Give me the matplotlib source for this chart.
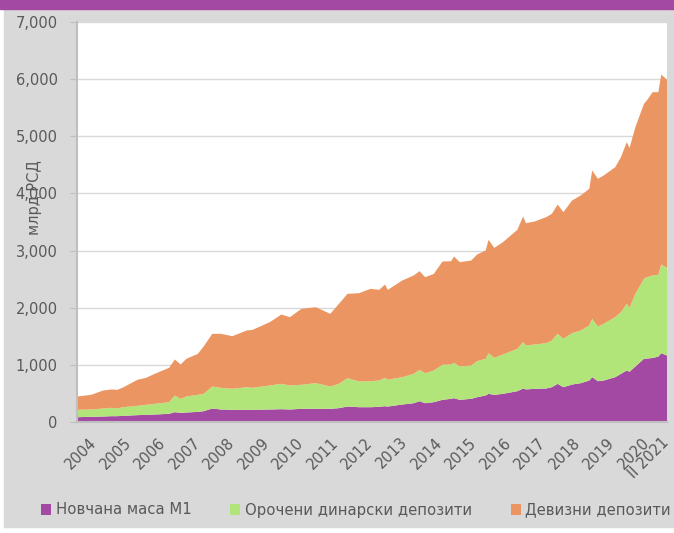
import matplotlib.pyplot as plt
import numpy as np
import pandas as pd
from matplotlib.patches import Patch, Rectangle

# monthly readings (млрд РСД), Jan 2004 - Feb 2021
dates = ['2004-01', '2004-06', '2004-10', '2005-01', '2005-03', '2005-05', '2005-10',
         '2006-01', '2006-04', '2006-09', '2006-11', '2007-01', '2007-03', '2007-07',
         '2007-09', '2007-12', '2008-03', '2008-07', '2008-12', '2009-02', '2009-08',
         '2009-12', '2010-03', '2010-07', '2010-12', '2011-05', '2011-08', '2011-11',
         '2012-03', '2012-07', '2012-10', '2012-12', '2013-01', '2013-06', '2013-10',
         '2013-12', '2014-02', '2014-05', '2014-08', '2014-11', '2014-12', '2015-02',
         '2015-06', '2015-08', '2015-11', '2015-12', '2016-02', '2016-05', '2016-10',
         '2016-12', '2017-01', '2017-04', '2017-08', '2017-10', '2017-12', '2018-02',
         '2018-05', '2018-08', '2018-11', '2018-12', '2019-02', '2019-04', '2019-08',
         '2019-10', '2019-12', '2020-01', '2020-03', '2020-06', '2020-07', '2020-09',
         '2020-11', '2020-12', '2021-02']

m1 = [84, 91, 96, 102, 102, 108, 120, 125, 131, 143, 172, 160, 166, 177, 189, 236,
      219, 213, 213, 213, 219, 224, 219, 231, 231, 231, 242, 271, 259, 259, 265, 277,
      270, 306, 329, 364, 329, 347, 388, 406, 417, 388, 406, 434, 464, 493, 475, 493,
      539, 586, 570, 581, 586, 609, 668, 609, 656, 679, 726, 784, 714, 726, 784, 843,
      901, 880, 971, 1106, 1110, 1120, 1146, 1204, 1164]

dinar_dep = [129, 128, 140, 146, 134, 151, 163, 176, 187, 204, 292, 245, 280, 298, 304,
             385, 379, 368, 396, 385, 420, 444, 420, 420, 449, 390, 426, 496, 450, 455,
             461, 496, 470, 478, 514, 549, 526, 554, 613, 600, 619, 583, 583, 630, 642,
             711, 648, 688, 742, 811, 769, 775, 793, 817, 875, 847, 898, 922, 963, 1022,
             957, 992, 1050, 1079, 1167, 1118, 1272, 1400, 1424, 1444, 1430, 1552, 1535]

fx_dep = [233, 257, 315, 321, 327, 345, 455, 472, 525, 601, 630, 601, 659, 718, 828,
          922, 945, 921, 992, 1015, 1108, 1213, 1195, 1330, 1329, 1272, 1400, 1476, 1545,
          1617, 1587, 1633, 1573, 1692, 1721, 1726, 1679, 1692, 1808, 1808, 1860, 1826,
          1837, 1867, 1895, 1984, 1925, 1966, 2082, 2199, 2140, 2153, 2205, 2217, 2263,
          2216, 2322, 2363, 2392, 2595, 2585, 2596, 2625, 2712, 2829, 2800, 2916, 3062,
          3092, 3208, 3196, 3325, 3290]

series_names = ['Новчана маса М1', 'Орочени динарски депозити', 'Девизни депозити']
colors = ['#a349a4', '#b2e579', '#eb9662']
x_labels = ['2004', '2005', '2006', '2007', '2008', '2009', '2010', '2011', '2012',
            '2013', '2014', '2015', '2016', '2017', '2018', '2019', '2020', 'II 2021']

plt.rcParams['font.family'] = ['DejaVu Sans']
text_col = '#595959'

d = pd.to_datetime(dates)
x = (d.year - 2004) * 12 + d.month - 1

fig = plt.figure(figsize=(6.74, 5.33), dpi=100, facecolor='white')
# gray panel and purple band at the top
fig.patches.append(Rectangle((4 / 674, 6 / 533), 1, 1 - 15 / 533,
                             transform=fig.transFigure, color='#d9d9d9', zorder=-2))
fig.patches.append(Rectangle((0, 1 - 9 / 533), 1, 9 / 533,
                             transform=fig.transFigure, color='#a349a4', zorder=-1))

ax = fig.add_axes([77 / 674, 1 - 422 / 533, 590 / 674, 400 / 533])
ax.stackplot(x, m1, dinar_dep, fx_dep, colors=colors, linewidth=0)

ax.set_xlim(x[0], x[-1])
ax.set_ylim(0, 7000)
ax.set_yticks(np.arange(0, 7001, 1000))
ax.set_yticklabels([f'{v:,}' for v in range(0, 7001, 1000)])
ax.grid(axis='y', color='#d9d9d9', linewidth=1)
ax.set_axisbelow(True)

ticks = [6 + 12 * i for i in range(len(x_labels) - 1)] + [x[-1]]
ax.set_xticks(ticks)
ax.set_xticklabels(x_labels, rotation=45, ha='right', va='center',
                   rotation_mode='anchor')

for s in ['top', 'right']:
    ax.spines[s].set_visible(False)
for s in ['left', 'bottom']:
    ax.spines[s].set_color('#bfbfbf')
    ax.spines[s].set_linewidth(1.5)

ax.tick_params(axis='y', colors='#bfbfbf', labelcolor=text_col, labelsize=10.5,
               length=5, pad=9)
ax.tick_params(axis='x', length=0, labelcolor=text_col, labelsize=10.5, pad=13)

fig.text(35 / 674, 1 - 198 / 533, 'млрд РСД', rotation=90, ha='center',
         va='center', color=text_col, fontsize=10.5)

handles = [Patch(facecolor=c, edgecolor='none') for c in colors]
fig.legend(handles, series_names, loc='center', bbox_to_anchor=(0.528, 1 - 510 / 533),
           ncol=3, frameon=False, fontsize=10.7, labelcolor=text_col,
           handlelength=0.7, handleheight=0.7, handletextpad=0.3, columnspacing=2.6)

fig.savefig('out.png', dpi=100, facecolor=fig.get_facecolor())
